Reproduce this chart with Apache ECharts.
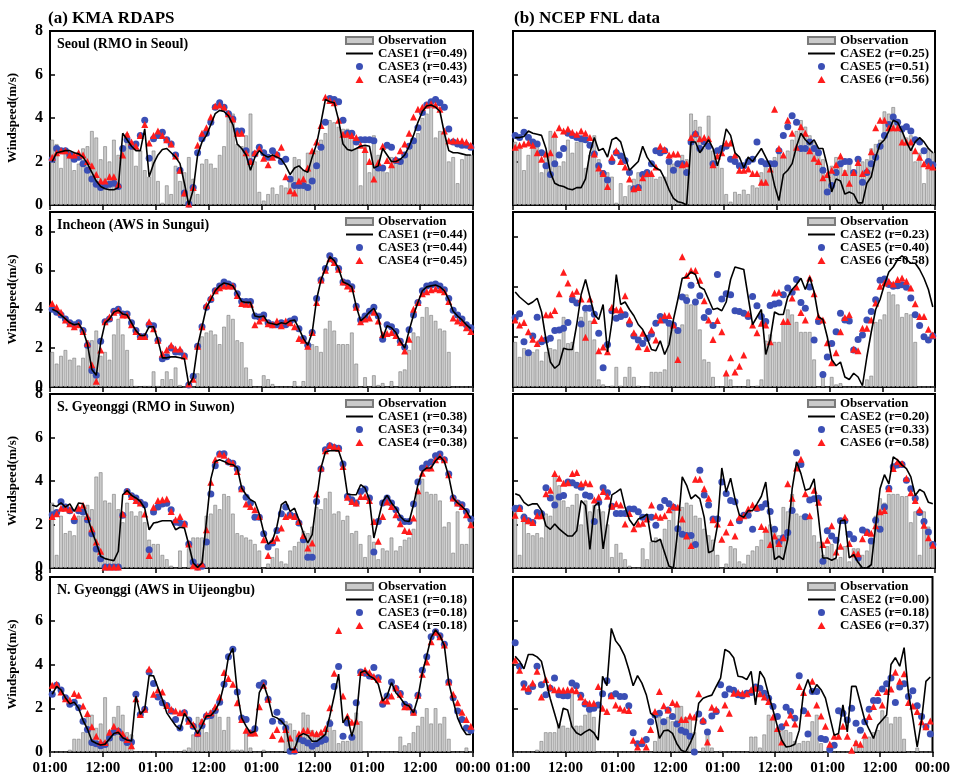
<!DOCTYPE html>
<html>
<head>
<meta charset="utf-8">
<script src="https://cdn.jsdelivr.net/npm/echarts@6/dist/echarts.min.js"></script>
<style>
html, body { margin: 0; padding: 0; background: #fff; }
#wind_chart { width: 953px; height: 777px; }
</style>
</head>
<body>
<div id="wind_chart"></div>
<script>
// hourly wind speed, 96 hours, 01:00 day 1 .. 00:00 day 5
var hour_labels = ["01:00", "12:00", "01:00", "12:00", "01:00", "12:00", "01:00", "12:00", "00:00"];

// ---- (a) KMA RDAPS, Seoul
var a1_obs = [3.0,2.8,1.7,2.6,2.4,1.6,1.9,2.6,2.7,3.4,3.1,2.1,2.7,2.0,3.0,2.3,2.7,3.3,2.9,1.8,2.5,1.6,1.3,2.5,1.1,0.1,0.9,0.5,1.8,1.1,1.5,2.2,1.2,0.5,1.9,2.1,1.9,1.7,2.3,2.7,4.1,4.2,2.8,2.7,3.2,4.2,2.0,0.6,0.2,0.5,0.8,0.5,0.9,0.8,1.2,2.2,2.1,1.6,2.4,2.4,2.5,3.0,3.3,3.9,3.8,3.6,3.5,3.5,3.1,2.6,0.9,2.7,1.5,3.2,2.3,1.6,1.5,2.2,2.0,2.0,2.2,2.7,3.0,3.3,4.0,4.2,4.5,3.1,3.4,3.3,2.0,2.2,1.0,2.1,2.3,2.3];
var a1_case1 = [2.0,2.4,2.45,2.5,2.5,2.4,2.35,2.2,1.9,1.5,1.1,0.85,0.75,0.7,0.7,0.8,3.3,3.0,2.7,2.5,2.5,3.5,1.3,1.9,2.3,2.55,2.6,2.4,2.2,1.9,1.0,0.0,0.7,2.3,2.9,3.2,3.7,4.2,4.35,4.3,4.1,3.7,2.8,2.6,2.3,1.6,2.2,2.5,2.3,2.2,2.3,2.2,2.1,1.8,1.4,1.7,1.8,1.6,1.5,2.2,2.8,3.8,4.85,4.75,4.7,3.9,2.8,2.55,2.5,2.6,2.7,2.75,2.7,1.7,1.8,2.6,2.3,2.0,2.0,2.1,2.3,2.7,3.2,3.8,4.3,4.55,4.6,4.5,4.3,3.3,2.5,2.4,2.4,2.35,2.3,2.3];
var a1_case3 = [2.1,2.6,2.5,2.5,2.3,2.1,2.2,1.9,1.6,1.2,0.95,0.8,0.9,0.95,1.0,0.85,2.6,3.0,2.7,2.8,3.2,3.9,2.15,3.05,3.2,3.35,3.0,2.8,2.3,1.6,0.55,0.05,0.8,2.4,3.05,3.3,3.8,4.5,4.7,4.5,4.2,3.95,3.4,3.4,2.5,2.0,2.35,2.65,2.4,2.2,2.5,2.3,2.0,2.1,1.2,0.9,0.9,0.9,0.8,1.1,1.8,2.65,3.8,4.9,4.85,4.75,3.9,3.3,3.3,2.9,3.0,3.0,3.0,2.95,1.7,1.7,2.75,2.65,2.05,2.0,2.3,2.7,2.95,3.55,4.25,4.6,4.75,4.85,4.7,4.5,3.5,2.9,2.8,2.75,2.75,2.65];
var a1_case4 = [2.2,2.4,2.5,2.5,2.3,2.3,2.4,2.3,2.0,1.8,1.4,1.1,1.1,1.3,1.3,0.95,2.3,3.25,2.9,2.7,3.2,3.7,2.85,3.2,3.4,3.2,3.0,2.8,2.25,1.6,0.55,0.05,0.8,2.75,3.3,3.55,4.05,4.55,4.6,4.5,4.2,3.95,3.3,3.3,2.4,2.0,2.4,2.6,2.15,1.85,2.2,2.35,2.65,1.3,0.65,0.55,1.1,1.2,1.7,2.5,2.9,3.65,4.95,4.8,4.7,3.9,3.25,3.25,3.2,3.1,2.75,2.55,2.0,1.2,1.95,2.7,2.05,1.85,2.1,2.5,2.8,3.3,4.05,4.4,4.5,4.6,4.65,4.6,4.4,3.4,2.95,2.95,2.95,2.95,2.9,2.75];

// ---- (b) NCEP FNL, Seoul
var b1_obs = [2.9,2.6,1.6,2.3,2.8,2.9,1.5,2.4,3.4,3.2,1.8,2.0,3.0,2.4,2.9,3.0,1.7,2.3,3.2,2.1,1.6,1.5,1.3,0.1,1.0,0.4,0.9,1.2,1.5,1.2,1.3,1.4,1.2,1.3,1.3,2.0,1.9,1.8,2.3,2.1,4.2,3.9,3.6,2.6,4.1,2.5,2.0,1.7,0.5,0.15,0.6,0.5,0.7,0.5,0.9,0.8,1.5,1.9,1.7,2.2,2.4,2.3,2.5,3.0,3.4,3.9,3.6,3.2,2.9,2.6,2.1,1.4,1.8,2.2,2.1,1.6,2.0,1.5,1.9,2.0,2.1,2.6,2.8,3.0,4.3,4.2,4.5,3.9,3.5,3.1,3.2,2.0,2.4,1.0,2.6,2.4];
var b1_case2 = [3.1,3.1,3.15,3.4,3.3,3.25,3.2,2.6,1.5,1.0,0.9,0.85,0.75,0.7,0.8,0.8,1.2,2.4,3.1,2.5,2.6,2.2,3.0,3.1,2.9,2.2,1.6,1.8,2.0,2.7,2.2,1.9,1.7,1.6,1.2,0.7,0.3,0.15,0.1,0.0,2.9,2.9,2.4,2.7,3.0,2.6,1.8,2.5,3.5,3.2,2.4,2.2,1.7,2.2,2.0,2.3,2.6,2.2,1.8,0.9,0.2,1.4,1.6,1.9,2.7,3.3,3.0,2.8,3.0,2.6,2.6,1.8,0.6,1.2,1.1,0.5,0.6,0.5,0.1,0.1,1.0,1.3,2.2,2.8,3.0,3.4,3.9,3.8,3.4,2.9,2.5,2.9,3.1,2.9,2.6,2.4];
var b1_case5 = [3.2,3.1,3.35,3.1,2.9,2.8,2.4,1.8,1.4,1.9,2.3,2.6,3.3,3.2,3.1,3.05,3.0,2.75,2.35,1.8,1.45,1.15,2.0,2.4,2.25,2.05,1.5,0.75,0.8,1.4,1.5,1.9,2.5,2.4,2.5,2.0,1.6,1.9,1.9,1.5,2.9,3.25,2.6,2.9,2.7,1.9,2.5,2.6,2.7,2.1,2.0,1.8,1.8,2.0,2.1,2.9,2.0,1.9,1.9,1.9,2.5,3.2,3.6,4.1,3.8,2.6,2.6,2.9,2.6,2.4,1.6,0.6,0.9,1.5,1.9,2.0,2.0,1.5,2.1,1.05,1.5,1.9,2.2,2.7,3.2,3.7,4.05,3.8,3.5,3.6,3.4,3.0,2.9,2.5,2.0,1.85];
var b1_case6 = [2.65,2.75,2.8,2.85,2.75,2.4,2.1,2.35,2.4,3.25,3.55,3.4,3.5,3.35,3.25,3.4,3.3,3.1,2.35,1.7,1.45,0.85,2.2,2.5,2.0,1.75,1.2,0.75,0.8,1.25,1.45,1.45,1.75,2.7,2.55,2.3,2.35,2.35,1.85,1.9,3.1,3.3,3.05,3.1,3.05,1.85,2.25,2.4,2.85,2.85,2.3,1.6,1.6,1.65,1.45,1.45,1.05,1.05,1.65,4.4,2.6,2.3,3.9,3.3,2.65,3.6,3.3,2.5,2.15,2.0,1.25,1.4,1.6,1.85,2.25,1.5,1.0,1.5,1.95,1.45,1.6,2.45,3.55,3.9,3.9,3.55,3.55,3.55,2.9,2.9,2.9,2.5,2.2,1.9,1.8,1.75];

// ---- (a) Incheon
var a2_obs = [1.8,1.2,1.6,1.9,1.4,1.5,1.1,1.5,2.4,2.4,2.9,1.6,1.8,1.4,2.7,3.5,2.7,1.9,0.4,0.05,0.0,0.05,0.05,0.8,0.05,0.4,0.8,0.4,1.0,0.1,0.0,0.0,0.0,0.7,2.6,2.8,2.9,2.7,2.2,3.1,3.7,3.5,2.4,2.3,1.0,0.4,0.0,0.0,0.6,0.4,0.15,0.0,0.0,0.0,0.0,0.3,0.05,0.3,2.0,2.2,2.1,1.8,3.0,3.4,2.9,2.2,2.2,2.2,2.8,1.2,0.0,0.5,0.0,0.6,0.1,0.2,0.0,0.3,0.0,0.8,0.9,1.9,2.8,2.6,3.6,4.1,3.7,3.4,3.0,2.9,1.8,0.0,0.0,0.0,0.0,0.0];
var a2_case1 = [4.0,3.9,3.7,3.5,3.3,3.2,3.25,2.9,2.2,0.9,0.6,2.3,3.3,3.5,3.85,3.95,3.75,3.7,3.3,2.9,2.65,2.65,3.1,3.1,2.4,1.5,1.5,1.55,1.55,1.5,1.45,0.1,0.5,2.1,3.1,4.1,4.5,4.95,5.2,5.35,5.3,5.2,4.8,4.4,4.35,4.35,3.65,3.6,3.65,3.3,3.25,3.2,3.3,3.25,3.4,3.45,3.0,2.5,2.15,2.8,4.5,5.5,6.1,6.7,6.5,6.1,5.4,5.3,5.15,4.15,3.4,3.6,3.85,4.05,3.6,2.5,3.15,3.05,2.8,2.35,2.0,2.9,3.7,4.35,4.95,5.15,5.2,5.25,5.15,4.95,4.5,3.9,3.65,3.45,3.2,3.0];
var a2_case3 = [4.0,3.85,3.7,3.5,3.3,3.2,3.3,2.9,2.15,0.85,0.6,2.35,3.35,3.5,3.9,4.0,3.75,3.75,3.3,2.9,2.6,2.6,3.2,3.15,2.4,1.45,1.55,2.0,1.8,1.8,1.6,0.1,0.55,2.1,3.1,4.1,4.5,4.95,5.2,5.4,5.3,5.2,4.8,4.4,4.4,4.4,3.65,3.6,3.7,3.3,3.2,3.2,3.3,3.2,3.4,3.5,3.0,2.5,2.15,2.8,4.55,5.5,6.1,6.75,6.5,6.1,5.4,5.35,5.15,4.15,3.45,3.65,3.9,4.1,3.65,2.45,3.2,3.1,2.85,2.35,2.05,2.95,3.7,4.35,4.95,5.2,5.25,5.3,5.2,5.0,4.55,3.95,3.7,3.5,3.2,3.05];
var a2_case4 = [4.3,4.1,3.85,3.45,3.25,3.1,3.2,2.85,2.25,1.15,0.3,1.9,3.35,3.6,3.85,3.95,3.7,3.7,3.2,2.85,2.6,2.6,3.35,3.0,2.4,1.7,1.9,2.15,1.95,1.95,1.6,0.15,0.4,2.1,3.1,4.2,4.6,4.95,5.1,5.2,5.2,5.2,4.7,4.3,4.25,4.25,3.2,3.4,3.55,3.25,3.2,3.4,3.15,3.4,3.3,3.1,2.5,2.4,2.1,2.8,4.35,5.5,6.0,6.6,6.4,6.05,5.4,5.2,5.05,4.1,3.35,3.5,3.55,3.85,3.4,2.7,2.75,2.8,2.65,2.3,1.85,2.45,4.0,4.35,4.8,4.9,5.0,5.05,5.0,4.9,4.4,3.55,3.4,3.3,3.05,2.85];

// ---- (b) Incheon
var b2_obs = [1.8,1.2,1.55,1.4,1.4,1.5,1.05,1.4,1.55,1.5,1.9,2.8,1.75,1.8,1.4,2.8,3.0,2.65,1.9,0.3,0.1,0.0,0.05,0.8,0.05,0.4,0.8,0.4,0.05,0.0,0.0,0.6,0.6,0.6,0.7,2.6,2.3,2.3,2.5,3.7,3.3,3.3,2.3,1.1,1.0,0.4,0.0,0.0,0.5,0.3,0.0,0.0,0.0,0.3,0.0,0.05,0.3,1.85,2.1,1.8,1.8,2.6,3.1,2.9,2.6,2.2,2.2,2.2,1.1,0.0,0.4,0.0,0.4,0.1,0.15,0.0,0.0,0.0,0.0,0.0,0.3,0.45,2.6,2.7,2.9,3.8,3.7,3.3,2.8,2.95,2.9,1.8,0.0,0.0,0.0,0.0];
var b2_case2 = [3.8,3.6,3.45,3.3,3.4,3.55,3.0,1.9,1.0,0.75,0.9,1.55,1.5,1.5,2.5,3.7,4.3,3.6,2.9,2.7,3.3,1.4,2.6,4.5,3.3,3.4,3.1,2.85,2.5,2.3,1.95,1.5,1.45,1.85,1.3,1.7,2.7,3.5,4.35,4.4,4.6,4.5,4.0,3.9,3.5,3.1,3.15,3.05,3.4,4.3,4.8,4.75,4.7,3.6,2.5,2.8,3.1,1.3,1.9,3.0,2.9,2.9,3.6,3.9,4.1,4.35,3.9,4.4,3.8,2.8,2.7,2.0,1.1,0.85,1.0,0.4,0.3,0.55,0.4,0.05,1.2,2.2,3.1,3.5,4.1,4.6,4.8,5.1,5.25,5.1,4.95,4.95,4.7,4.35,3.9,3.2];
var b2_case5 = [2.78,2.93,1.81,1.37,2.04,2.79,1.81,1.88,1.95,2.26,2.28,2.35,2.58,3.49,3.36,2.52,3.15,3.15,2.91,2.15,0.77,1.7,3.05,2.75,2.82,2.89,2.52,2.04,1.88,1.74,1.95,2.12,2.55,2.82,2.68,2.55,2.48,2.26,3.6,3.46,4.07,3.4,3.65,2.78,3.02,2.46,4.5,3.52,3.73,3.69,3.05,3.02,2.95,2.82,3.62,3.25,2.82,2.62,3.26,3.32,3.36,3.69,3.96,3.79,4.3,3.38,3.15,4.0,1.88,2.62,0.5,1.2,1.74,2.21,2.95,2.68,2.64,1.48,1.9,2.08,2.68,3.02,3.49,4.27,4.32,4.1,4.03,4.05,4.09,3.99,3.56,2.89,2.46,2.01,1.88,2.04];
var b2_case6 = [2.68,2.48,2.58,2.21,1.91,1.74,1.95,2.89,2.89,3.06,3.73,4.59,4.16,3.73,3.83,3.52,1.99,3.52,2.66,1.45,1.6,1.41,3.19,3.09,3.09,3.65,2.68,2.17,1.61,2.15,1.54,2.28,1.88,2.68,2.86,2.86,2.48,1.1,5.21,4.46,4.66,4.66,4.27,3.45,2.68,1.9,2.66,2.21,0.56,1.17,0.6,0.83,1.28,2.93,2.48,2.17,2.55,2.48,1.81,3.76,3.79,2.62,2.62,3.56,4.0,2.98,2.68,4.36,3.73,2.82,2.68,1.77,0.97,1.37,2.21,2.78,2.89,1.51,1.45,2.35,2.35,2.68,3.36,4.03,4.16,4.23,4.12,4.3,4.36,4.23,3.96,3.33,2.82,2.82,2.31,2.08];

// ---- (a) S. Gyeonggi
var a3_obs = [3.0,0.6,2.4,1.6,1.7,1.5,2.4,2.4,2.9,2.7,4.2,4.4,3.1,3.0,3.4,2.7,2.1,3.0,2.6,2.4,2.6,2.1,1.3,1.1,1.1,0.6,0.4,0.1,0.0,0.8,0.0,0.9,1.4,1.4,1.4,2.4,2.5,2.9,2.7,3.4,3.3,2.5,1.6,1.5,1.4,1.3,1.1,0.8,0.0,0.2,0.5,0.9,0.3,0.2,0.8,1.0,1.2,1.7,1.6,1.9,2.8,2.7,3.2,3.5,2.5,2.6,2.2,2.4,1.6,1.7,1.1,0.5,1.5,1.2,0.4,0.9,0.8,1.4,0.8,1.0,1.3,1.4,1.8,3.4,4.1,3.5,3.4,3.4,3.1,1.9,2.1,0.7,2.6,1.1,1.1,2.3];
var a3_case1 = [2.9,2.83,3.0,2.8,2.95,2.6,2.99,2.95,2.34,1.7,1.15,0.54,0.43,0.38,0.34,0.77,3.37,3.57,3.34,3.22,3.06,2.75,1.76,2.07,2.11,2.17,2.17,2.17,1.76,1.87,1.84,1.07,0.23,0.03,0.23,2.14,4.1,4.9,4.98,4.9,4.78,4.75,4.6,3.68,3.37,3.14,3.03,2.48,1.65,1.1,1.26,1.91,2.91,3.06,2.6,2.75,2.22,1.61,1.15,1.53,3.14,4.6,5.33,5.39,5.4,5.39,4.78,3.4,3.37,3.37,3.83,3.68,3.14,1.38,2.22,3.06,3.34,2.99,2.75,2.37,2.17,2.14,2.91,3.83,4.44,4.6,4.6,4.93,5.13,4.9,4.21,3.22,2.99,2.83,2.63,2.27];
var a3_case3 = [2.45,2.55,3.05,2.8,2.63,2.17,2.63,2.57,2.22,1.58,0.87,0.43,0.05,0.05,0.05,0.05,2.42,3.52,3.32,3.22,3.02,2.91,0.84,2.57,2.8,2.94,2.98,2.68,2.1,2.07,2.02,1.1,0.28,0.05,0.08,1.19,3.4,4.7,5.24,5.25,4.87,4.82,4.56,3.64,3.25,2.99,2.33,2.33,1.58,0.96,1.15,1.72,2.5,2.8,2.45,2.37,2.07,1.3,0.49,0.5,3.06,4.55,5.44,5.62,5.54,5.51,4.78,3.29,3.14,2.99,3.52,3.63,3.22,0.73,2.14,2.99,3.22,2.99,2.68,2.3,2.14,2.14,2.94,3.95,4.6,4.78,4.87,5.16,5.24,4.98,4.32,3.22,2.99,2.91,2.6,2.25];
var a3_case4 = [2.37,2.5,2.75,2.75,2.68,2.37,2.75,2.88,2.37,1.81,1.19,0.77,0.05,0.05,0.05,0.05,2.48,3.52,3.29,3.1,2.99,2.48,0.57,2.79,3.1,3.14,3.17,2.6,2.22,2.37,2.02,1.1,0.1,0.05,0.18,1.76,3.94,4.98,5.24,5.18,4.93,4.82,4.44,3.64,2.94,2.83,2.68,2.37,1.3,0.57,1.26,1.38,1.84,2.37,2.42,2.37,2.14,1.5,0.92,1.15,3.4,4.6,5.39,5.64,5.59,5.51,4.67,3.25,3.06,2.99,3.29,3.29,3.1,2.14,1.23,2.37,3.03,2.83,2.45,2.04,1.72,1.68,2.3,3.55,4.36,4.6,4.6,4.98,5.13,4.98,4.29,3.22,2.99,2.83,2.45,1.99];

// ---- (b) S. Gyeonggi
var b3_obs = [2.9,0.6,2.5,1.6,1.5,1.6,1.4,2.5,2.4,4.3,3.8,3.1,2.8,2.9,3.4,2.0,3.1,2.6,2.9,2.7,2.6,2.0,0.5,1.1,0.7,0.4,0.1,0.0,0.0,0.9,0.4,1.2,1.4,1.3,1.8,2.2,2.8,1.9,2.8,3.0,2.9,2.4,2.3,1.8,1.5,1.3,0.6,0.0,0.2,1.0,0.9,0.3,0.2,0.6,0.8,1.0,1.3,1.7,2.0,1.7,1.5,2.8,2.6,3.4,2.5,2.4,2.4,2.4,1.5,1.2,0.6,1.0,1.1,0.4,0.5,1.0,0.3,0.9,0.9,0.6,0.8,1.3,2.4,3.2,3.0,3.4,3.4,3.4,3.3,3.3,2.1,2.6,0.6,2.6,1.9,1.1];
var b3_case2 = [3.41,3.33,3.02,2.87,2.95,2.95,2.64,1.94,1.78,2.02,1.8,1.63,1.47,1.47,1.71,3.1,2.87,0.85,2.84,3.02,0.88,2.17,3.36,3.49,3.64,2.79,2.22,1.94,2.25,2.33,2.48,1.24,1.21,1.32,0.7,0.08,0.0,1.78,4.19,3.8,3.18,3.36,3.18,2.33,0.7,0.8,1.94,4.6,3.49,4.13,3.18,2.43,2.33,2.64,2.64,2.95,3.3,3.95,2.09,0.39,0.54,0.39,1.32,3.64,4.88,4.34,3.57,3.64,4.1,2.33,0.46,0.46,0.36,0.46,2.17,2.2,0.46,0.62,0.26,0.0,0.0,0.15,1.94,3.64,4.29,3.87,5.11,4.96,4.73,4.57,4.19,3.33,3.61,3.49,3.02,2.95];
var b3_case5 = [2.74,2.76,2.33,2.17,2.09,2.55,2.5,3.69,3.22,2.9,3.26,3.33,3.95,3.92,3.8,3.71,3.36,3.3,2.14,3.02,3.69,3.46,2.84,2.51,2.51,2.51,2.71,2.71,2.59,2.33,2.33,2.33,1.97,2.79,3.1,2.95,2.79,1.81,1.55,1.5,1.5,1.08,4.5,3.36,2.9,2.25,2.25,3.95,3.43,3.1,3.05,2.17,2.43,2.43,1.78,2.74,2.79,2.95,2.6,1.78,1.19,1.39,1.63,2.64,5.3,4.76,2.36,3.13,3.18,3.21,0.31,1.71,1.47,1.28,2.17,2.17,1.55,1.35,0.46,1.75,1.66,1.24,2.2,1.78,2.8,3.67,4.65,4.73,4.76,4.03,3.64,3.21,2.55,2.14,1.66,1.08];
var b3_case6 = [2.43,2.74,2.28,2.17,2.09,2.4,2.4,3.41,3.57,4.34,4.13,3.9,3.92,4.34,4.39,3.87,3.92,3.87,3.13,3.26,3.52,3.3,2.84,2.95,2.9,2.02,2.51,1.81,2.02,2.06,2.25,2.9,2.4,2.33,2.4,2.68,2.84,2.79,2.25,1.47,1.04,4.08,4.08,3.64,3.21,2.22,2.02,1.32,1.66,2.09,1.47,2.33,2.4,2.71,2.9,2.79,1.91,1.78,1.08,1.47,1.13,1.39,3.87,3.21,4.6,5.0,3.41,2.4,3.57,3.02,1.08,1.28,1.94,0.73,1.0,2.33,1.13,0.66,0.66,1.35,1.63,1.6,1.94,2.59,2.64,3.64,4.57,4.88,4.81,4.13,3.46,3.1,2.68,1.97,1.39,1.05];

// ---- (a) N. Gyeonggi
var a4_obs = [0.0,0.0,0.0,0.0,0.1,0.6,0.6,0.9,1.6,1.7,1.1,1.3,2.5,1.0,1.6,2.1,1.7,0.9,0.8,0.0,0.0,0.0,0.0,0.0,0.0,0.0,0.0,0.0,0.0,0.0,0.1,0.2,0.8,1.6,1.5,0.9,1.9,2.0,1.6,1.0,1.6,0.1,0.1,0.1,0.9,0.2,0.0,0.0,0.1,0.0,0.0,0.0,0.0,1.4,1.3,1.0,0.8,1.8,1.7,1.0,0.9,0.9,1.0,1.5,1.0,0.4,0.5,0.5,0.6,1.8,1.4,0.0,0.0,0.0,0.0,0.0,0.0,0.0,0.0,0.7,0.3,0.4,0.9,1.2,1.6,2.0,1.3,2.0,1.3,1.6,0.6,0.0,0.0,0.0,0.2,0.0];
var a4_case1 = [2.64,3.0,2.84,2.48,2.2,2.28,2.0,1.45,1.05,0.5,0.4,0.32,0.36,0.6,0.85,0.9,0.65,0.55,0.5,2.55,1.72,1.95,3.5,3.48,2.94,2.4,1.79,1.49,1.21,1.03,1.76,1.46,1.18,0.84,1.21,1.64,1.67,1.9,2.28,3.1,4.35,4.74,2.74,1.56,1.18,0.87,0.95,2.71,3.1,2.48,1.64,1.56,1.41,1.18,0.11,0.11,0.72,0.84,0.75,0.49,0.49,0.64,0.8,1.64,2.56,3.56,1.33,1.64,0.72,1.49,3.63,3.71,3.48,3.36,3.1,2.33,2.56,3.17,2.71,2.48,2.18,2.1,1.79,2.48,3.63,4.4,5.24,5.58,5.32,4.86,3.17,2.33,1.56,1.1,0.8,0.8];
var a4_case3 = [2.64,3.05,2.84,2.48,2.18,2.28,2.02,1.41,1.03,0.44,0.38,0.29,0.34,0.64,0.9,0.95,0.64,0.44,0.46,2.64,1.72,1.95,3.66,3.13,2.51,2.25,2.13,1.87,1.49,1.1,1.79,1.46,1.18,0.84,1.21,1.64,1.67,1.9,2.28,3.1,4.35,4.7,2.74,1.56,1.49,0.87,1.06,3.05,3.17,2.41,1.41,1.82,1.41,1.1,0.03,0.03,0.6,0.52,0.41,0.26,0.38,0.49,0.57,1.3,2.99,3.91,0.72,1.33,0.67,2.25,3.66,3.6,3.48,3.86,3.4,2.18,2.56,3.2,2.9,2.68,2.18,2.07,1.82,2.59,3.74,4.35,5.27,5.5,5.32,4.93,3.2,2.48,1.87,1.49,1.1,0.98];
var a4_case4 = [3.05,3.1,2.74,2.44,2.38,2.67,2.59,2.1,1.76,1.15,0.72,0.46,0.44,0.9,1.18,1.0,0.83,0.57,0.29,2.44,1.72,1.95,3.79,2.64,2.84,2.74,2.13,1.95,1.87,1.79,1.82,1.41,1.26,0.87,1.41,1.72,1.79,2.07,2.51,3.63,3.36,3.1,2.25,1.49,1.0,0.87,0.87,2.07,3.05,2.41,0.75,1.03,0.6,1.03,0.64,0.11,0.84,0.98,0.98,0.87,0.84,0.9,1.07,2.02,3.6,5.55,2.56,1.64,1.36,1.41,3.63,3.75,3.63,3.45,3.33,2.38,2.33,2.56,2.94,2.64,2.07,2.07,1.82,2.59,3.56,4.12,5.04,5.47,5.27,4.89,3.2,2.64,2.25,1.82,1.49,1.18];

// ---- (b) N. Gyeonggi
var b4_obs = [0.0,0.0,0.0,0.0,0.0,0.1,0.5,0.9,0.9,0.9,1.3,1.2,1.1,2.9,1.2,1.2,1.7,2.0,1.6,0.0,0.0,0.0,0.0,0.0,0.0,0.0,0.0,0.0,0.0,0.0,0.0,0.0,0.5,1.6,1.4,1.6,1.4,2.1,2.1,1.6,1.5,0.9,0.0,0.2,0.9,0.2,0.0,0.05,0.0,0.0,0.0,0.0,0.0,0.0,0.7,0.7,0.2,0.8,1.7,1.6,1.1,1.0,1.0,0.9,0.5,0.4,0.5,0.5,1.4,1.7,0.4,0.0,0.0,0.0,0.0,0.0,0.0,0.0,0.5,0.3,0.6,0.7,0.9,1.0,1.9,1.6,1.3,1.6,1.6,0.6,0.0,0.0,0.2,0.0,0.0,0.0];
var b4_case2 = [4.38,4.15,3.8,4.46,4.46,4.35,4.15,3.31,2.46,1.77,1.08,2.0,1.92,1.15,0.88,0.77,0.92,1.03,0.88,0.54,3.46,3.03,5.65,5.08,4.82,4.42,3.77,3.03,3.49,3.15,2.62,1.77,1.62,0.62,0.97,1.0,0.85,0.38,0.08,0.0,0.38,0.85,2.23,2.46,2.54,2.6,3.0,3.38,4.69,4.57,4.31,3.46,3.43,3.31,3.69,2.15,3.69,3.38,2.62,1.92,1.18,0.54,0.23,0.26,0.35,1.0,2.77,3.31,2.69,3.08,2.85,2.46,1.62,0.77,0.85,2.15,0.92,3.0,3.0,2.23,1.46,1.03,0.62,1.23,1.46,1.69,4.0,4.31,3.92,4.77,2.69,1.54,0.23,1.46,3.23,3.43];
var b4_case5 = [5.0,3.92,3.12,2.77,3.0,3.92,3.08,2.62,2.92,3.38,2.62,2.57,2.57,3.15,3.03,2.6,2.2,1.95,2.0,2.15,2.66,3.26,2.57,2.66,2.54,2.54,2.11,0.88,0.38,0.38,0.57,1.38,1.69,1.77,1.38,1.92,1.62,1.28,1.0,0.92,0.72,0.0,1.74,1.4,0.92,1.65,1.85,3.08,2.62,2.88,2.82,2.62,2.57,2.69,2.72,2.97,2.92,2.69,2.46,2.08,1.62,1.15,2.05,1.85,1.54,3.49,1.89,0.82,2.77,2.77,0.62,0.57,0.11,0.31,1.89,1.77,1.46,2.0,1.31,1.0,1.38,1.95,2.35,2.35,2.88,3.12,3.38,2.26,2.97,3.12,2.54,2.8,2.11,1.62,1.15,0.82];
var b4_case6 = [4.2,3.74,2.97,2.92,3.15,3.69,2.51,3.31,2.97,2.85,2.85,2.82,2.85,2.85,2.8,2.51,2.31,2.23,2.23,3.0,2.0,1.85,2.57,2.15,2.0,1.92,1.9,0.54,0.23,0.54,0.23,1.03,1.85,2.77,2.11,1.92,2.26,2.2,1.49,1.49,1.65,1.6,2.66,1.46,0.46,2.05,1.95,1.08,2.15,1.77,2.69,2.72,2.69,2.66,2.85,2.92,2.66,2.51,2.31,1.6,1.08,0.46,1.34,1.69,1.28,3.0,2.72,1.77,3.23,2.15,1.65,1.18,0.35,0.72,0.72,1.18,0.72,0.08,0.42,0.35,0.77,1.62,2.08,2.72,2.15,2.77,2.88,3.65,3.23,3.58,2.26,2.1,1.85,1.38,1.15,1.42];

var font_family = "'Liberation Serif', 'Times New Roman', serif";

// one entry per panel: [column, row, station title, y max, obs, line, circles, triangles, legend names]
var panels = [
    [0, 0, "Seoul (RMO in Seoul)", 8, a1_obs, a1_case1, a1_case3, a1_case4, ["CASE1 (r=0.49)", "CASE3 (r=0.43)", "CASE4 (r=0.43)"]],
    [1, 0, "", 8, b1_obs, b1_case2, b1_case5, b1_case6, ["CASE2 (r=0.25)", "CASE5 (r=0.51)", "CASE6 (r=0.56)"]],
    [0, 1, "Incheon (AWS in Sungui)", 9, a2_obs, a2_case1, a2_case3, a2_case4, ["CASE1 (r=0.44)", "CASE3 (r=0.44)", "CASE4 (r=0.45)"]],
    [1, 1, "", 7, b2_obs, b2_case2, b2_case5, b2_case6, ["CASE2 (r=0.23)", "CASE5 (r=0.40)", "CASE6 (r=0.58)"]],
    [0, 2, "S. Gyeonggi (RMO in Suwon)", 8, a3_obs, a3_case1, a3_case3, a3_case4, ["CASE1 (r=0.38)", "CASE3 (r=0.34)", "CASE4 (r=0.38)"]],
    [1, 2, "", 8, b3_obs, b3_case2, b3_case5, b3_case6, ["CASE2 (r=0.20)", "CASE5 (r=0.33)", "CASE6 (r=0.58)"]],
    [0, 3, "N. Gyeonggi (AWS in Uijeongbu)", 8, a4_obs, a4_case1, a4_case3, a4_case4, ["CASE1 (r=0.18)", "CASE3 (r=0.18)", "CASE4 (r=0.18)"]],
    [1, 3, "", 8, b4_obs, b4_case2, b4_case5, b4_case6, ["CASE2 (r=0.00)", "CASE5 (r=0.18)", "CASE6 (r=0.37)"]]
];

var col_left = [50, 513], col_width = [423, 422];
var row_top = [31, 212, 394, 577], row_height = [174, 175, 174, 175];

function to_points(values) {
    return values.map(function (v, i) { return [i + 0.5, v]; });
}

function load_wind_chart() {
    var grids = [], x_axes = [], y_axes = [], series = [], legends = [];
    var titles = [
        {text: "(a) KMA RDAPS", left: 48, top: 10, padding: 0,
         textStyle: {fontFamily: font_family, fontSize: 17, fontWeight: "bold", color: "#000"}},
        {text: "(b) NCEP FNL data", left: 514, top: 10, padding: 0,
         textStyle: {fontFamily: font_family, fontSize: 17, fontWeight: "bold", color: "#000"}}
    ];

    panels.forEach(function (p, k) {
        var col = p[0], row = p[1];
        var left = col_left[col], top = row_top[row];
        grids.push({left: left, top: top, width: col_width[col], height: row_height[row],
                    show: true, borderColor: "#000", borderWidth: 2, backgroundColor: "#fff"});
        x_axes.push({
            gridIndex: k, type: "value", min: 0, max: 96, interval: 12,
            axisLine: {show: true, lineStyle: {color: "#000", width: 2}},
            axisTick: {show: true, inside: false, length: 5, lineStyle: {color: "#000", width: 1.5}},
            splitLine: {show: false},
            axisLabel: {show: row === 3, margin: 9, color: "#000", fontFamily: font_family,
                        fontSize: 15, fontWeight: "bold",
                        formatter: function (v) { return hour_labels[Math.round(v / 12)]; }}
        });
        y_axes.push({
            gridIndex: k, type: "value", min: 0, max: p[3], interval: 2,
            axisLine: {show: true, lineStyle: {color: "#000", width: 2}},
            axisTick: {show: true, inside: true, length: 5, lineStyle: {color: "#000", width: 1.5}},
            splitLine: {show: false},
            axisLabel: {show: col === 0, showMaxLabel: p[3] % 2 === 0, margin: 7, color: "#000",
                        fontFamily: font_family, fontSize: 16, fontWeight: "bold"},
            name: col === 0 ? "Windspeed(m/s)" : "",
            nameLocation: "middle", nameGap: 31,
            nameTextStyle: {color: "#000", fontFamily: font_family, fontSize: 13, fontWeight: "bold"}
        });
        if (p[2]) {
            titles.push({text: p[2], left: left + 7, top: top + 6, padding: 0,
                         textStyle: {fontFamily: font_family, fontSize: 14, fontWeight: "bold", color: "#000"}});
        }
        series.push({
            name: "Observation", type: "bar", xAxisIndex: k, yAxisIndex: k,
            data: to_points(p[4]), barWidth: 3.6,
            itemStyle: {color: "#cacaca", borderColor: "#7a7a7a", borderWidth: 0.6}
        });
        series.push({
            name: p[8][0], type: "line", xAxisIndex: k, yAxisIndex: k,
            data: to_points(p[5]), symbol: "none",
            lineStyle: {color: "#000", width: 1.6}, itemStyle: {color: "#000"}
        });
        series.push({
            name: p[8][1], type: "scatter", xAxisIndex: k, yAxisIndex: k,
            data: to_points(p[6]), symbol: "circle", symbolSize: 7,
            itemStyle: {color: "#3b4fb5", opacity: 1}
        });
        series.push({
            name: p[8][2], type: "scatter", xAxisIndex: k, yAxisIndex: k,
            data: to_points(p[7]), symbol: "triangle", symbolSize: 7,
            itemStyle: {color: "#ff1c1c", opacity: 1}
        });
        legends.push({
            data: [
                {name: "Observation", icon: "rect"},
                {name: p[8][0], icon: "path://M0,0 L27,0 L27,2 L0,2 Z"},
                {name: p[8][1], icon: "circle"},
                {name: p[8][2], icon: "path://M4,0 L8,7 L0,7 Z"}
            ],
            orient: "vertical", align: "left", symbolKeepAspect: true,
            right: 953 - (left + col_width[col]) + 6, top: top + 3,
            padding: 0, itemGap: 0, itemWidth: 27, itemHeight: 7,
            selectedMode: false,
            textStyle: {fontFamily: font_family, fontSize: 13, fontWeight: "bold", color: "#000"}
        });
    });

    var wind_option = {
        animation: false,
        backgroundColor: "#fff",
        title: titles,
        legend: legends,
        grid: grids,
        xAxis: x_axes,
        yAxis: y_axes,
        series: series
    };
    var wind_chart = echarts.init(document.getElementById("wind_chart"), null, {renderer: "canvas"});
    wind_chart.setOption(wind_option);
}

load_wind_chart();
</script>
</body>
</html>
